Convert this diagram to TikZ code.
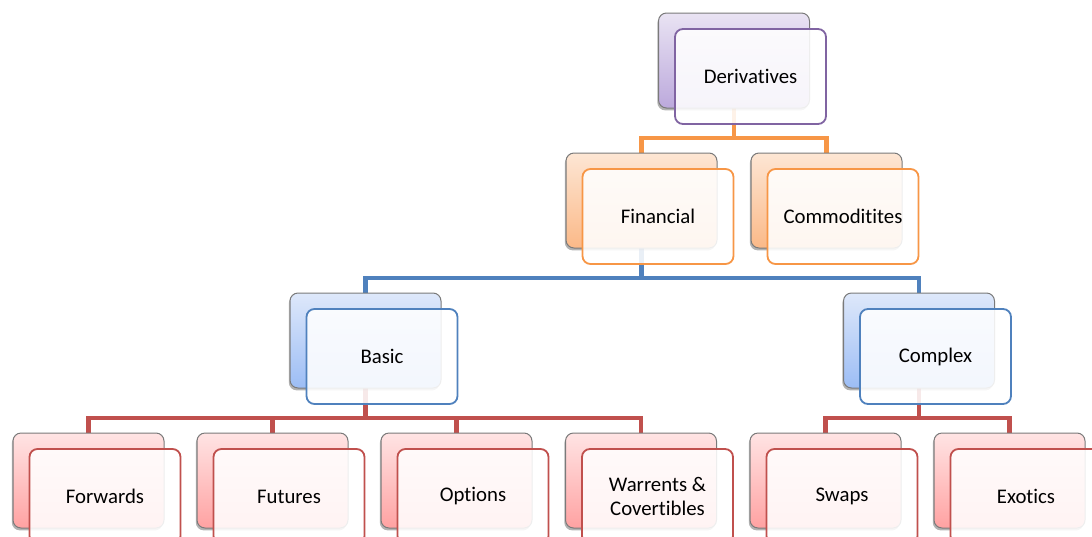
\documentclass[tikz,border=0pt]{standalone}
\usepackage{fontspec}
\setmainfont{Carlito}[Ligatures=NoCommon]
\usetikzlibrary{calc,shadows,backgrounds}
\definecolor{purpleaccent}{HTML}{8064A2}
\definecolor{purpletop}{HTML}{E9E3F3}
\definecolor{purplebot}{HTML}{BCA9DC}
\definecolor{orangeaccent}{HTML}{F79646}
\definecolor{orangetop}{HTML}{FDE6D4}
\definecolor{orangebot}{HTML}{FBB988}
\definecolor{blueaccent}{HTML}{4F81BD}
\definecolor{bluetop}{HTML}{DEE8FA}
\definecolor{bluebot}{HTML}{9CBDF5}
\definecolor{redaccent}{HTML}{C0504D}
\definecolor{redtop}{HTML}{FFE4E4}
\definecolor{redbot}{HTML}{FFA2A2}
\definecolor{backline}{HTML}{7A7A7A}
\tikzset{
  boxshape/.style={rounded corners=4pt, minimum width=75.5pt, minimum height=47.5pt, inner sep=0pt, outer sep=0pt},
  backbox/.style={boxshape, draw=backline, line width=0.5pt,
    drop shadow={shadow xshift=-0.6pt, shadow yshift=-1.2pt, opacity=0.3, fill=black}},
  frontbox/.style={boxshape, line width=0.9pt, fill=white, fill opacity=0.88, text opacity=1,
    align=center, font=\fontsize{10.4}{12}\selectfont},
  purpleback/.style={backbox, top color=purpletop, bottom color=purplebot},
  orangeback/.style={backbox, top color=orangetop, bottom color=orangebot},
  blueback/.style={backbox, top color=bluetop, bottom color=bluebot},
  redback/.style={backbox, top color=redtop, bottom color=redbot},
  conn/.style={line width=2.1pt},
}
\newcommand\tbox[5]{%
  \node[#4back] (#1) at (#2,#3) {};
  \node[frontbox, draw=#4accent] (#1f) at ($(#1)+(16.5,16)$) {#5};}
\begin{document}
\begin{tikzpicture}[x=0.5pt,y=-0.5pt]
\useasboundingbox (0,0) rectangle (1092,536);
\clip (0,0) rectangle (1092,536);
\tbox{d}{734}{60.5}{purple}{Derivatives}
\tbox{fin}{641.5}{200.5}{orange}{Financial}
\tbox{com}{826.5}{200.5}{orange}{Commoditites}
\tbox{bas}{365.5}{340.5}{blue}{Basic}
\tbox{cpx}{919}{340.5}{blue}{Complex}
\tbox{fw}{88.5}{480.5}{red}{Forwards}
\tbox{fu}{272.5}{480.5}{red}{Futures}
\tbox{op}{456.5}{480.5}{red}{Options}
\tbox{wa}{641}{480.5}{red}{Warrents \&\\Covertibles}
\tbox{sw}{825.5}{480.5}{red}{Swaps}
\tbox{ex}{1009.5}{480.5}{red}{Exotics}
\begin{pgfonlayer}{background}
\draw[conn, orangeaccent] (d.south) -- ++(0,30) -| (fin.north);
\draw[conn, orangeaccent] (d.south) -- ++(0,30) -| (com.north);
\draw[conn, blueaccent] (fin.south) -- ++(0,30) -| (bas.north);
\draw[conn, blueaccent] (fin.south) -- ++(0,30) -| (cpx.north);
\draw[conn, redaccent] (bas.south) -- ++(0,30) -| (fw.north);
\draw[conn, redaccent] (bas.south) -- ++(0,30) -| (fu.north);
\draw[conn, redaccent] (bas.south) -- ++(0,30) -| (op.north);
\draw[conn, redaccent] (bas.south) -- ++(0,30) -| (wa.north);
\draw[conn, redaccent] (cpx.south) -- ++(0,30) -| (sw.north);
\draw[conn, redaccent] (cpx.south) -- ++(0,30) -| (ex.north);
\end{pgfonlayer}
\end{tikzpicture}
\end{document}
